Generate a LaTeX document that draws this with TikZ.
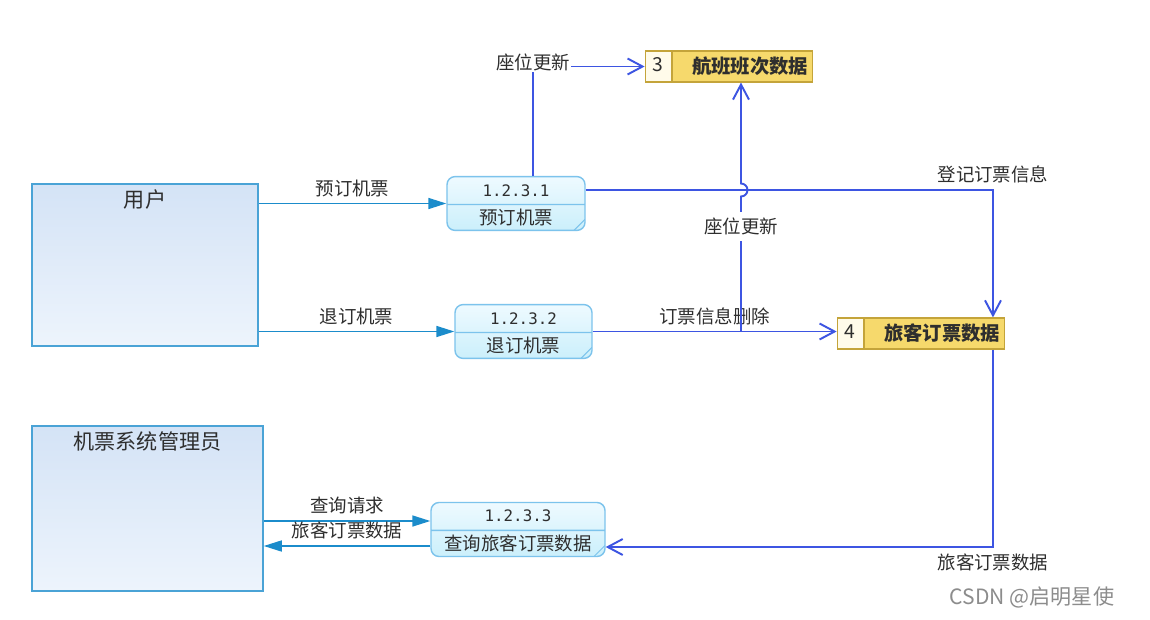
\documentclass[tikz,border=0pt]{standalone}
\usepackage{fontspec}
\setmainfont{Noto Sans CJK SC}
\newfontfamily\numfont{DejaVu Sans Mono}
\usetikzlibrary{shapes.multipart,arrows.meta,positioning,calc}

\definecolor{entityedge}{HTML}{4AA3D6}
\definecolor{entitytop}{HTML}{D4E3F6}
\definecolor{entitybot}{HTML}{EDF4FC}
\definecolor{procedge}{HTML}{7CC3EC}
\definecolor{proctop}{HTML}{EEFAFF}
\definecolor{procbot}{HTML}{CBEFFB}
\definecolor{storeedge}{HTML}{C4A43A}
\definecolor{storefill}{HTML}{F6D96C}
\definecolor{storecell}{HTML}{FFFBEA}
\definecolor{flowcyan}{HTML}{1B8CCB}
\definecolor{flowblue}{HTML}{3D55E2}
\definecolor{textgrey}{HTML}{2E2E2E}

\newcommand\procnum[1]{{\numfont\fontsize{9}{10}\selectfont #1}}

\begin{document}
\begin{tikzpicture}[
    x=0.02cm, y=-0.02cm,
    entity/.style={rectangle, draw=entityedge, line width=0.9pt,
                   top color=entitytop, bottom color=entitybot, inner sep=0pt},
    entitytitle/.style={anchor=north, inner sep=0.12cm,
                        font=\fontsize{12}{14}\selectfont, text=textgrey},
    process/.style={rectangle split, rectangle split parts=2, rounded corners=0.16cm,
                    draw=procedge, line width=0.8pt, top color=proctop, bottom color=procbot,
                    inner xsep=0.1cm, inner ysep=0.075cm, text height=0.3cm, text depth=0.08cm,
                    align=center, font=\fontsize{10.5}{12}\selectfont, text=textgrey,
                    path picture={\draw[procedge, line width=0.6pt]
                        ([xshift=-0.22cm]path picture bounding box.south east) --
                        ([yshift=0.22cm]path picture bounding box.south east);}},
    store/.style={rectangle split, rectangle split horizontal, rectangle split parts=2,
                  draw=storeedge, line width=0.8pt, rectangle split part fill={storecell,storefill},
                  inner xsep=0.05cm, inner ysep=0.09cm, text height=0.3cm, text depth=0.1cm,
                  font=\fontsize{11}{13}\selectfont, text=textgrey},
    flowin/.style={draw=flowcyan, line width=0.9pt, -{Triangle[length=0.36cm,width=0.22cm]}},
    flowstore/.style={draw=flowblue, line width=1.1pt, -{Straight Barb[length=0.3cm,width=0.32cm]}},
    flowlabel/.style={font=\fontsize{10.5}{12}\selectfont, text=textgrey},
    watermark/.style={font=\fontsize{12}{14}\selectfont, text=black!45}
]
    \useasboundingbox (0,0) rectangle (1150,619);
    \fill[white] (0,0) rectangle (1150,619);

    \node[entity, minimum width=4.52cm, minimum height=3.24cm,
          label={[entitytitle]north:用户}] (user) at (145,265) {};
    \node[entity, minimum width=4.62cm, minimum height=3.3cm,
          label={[entitytitle]north:机票系统管理员}] (admin) at (147.5,508.5) {};

    \node[process, text width=2.56cm] (p1) at (516,203.5) {\procnum{1.2.3.1}\nodepart{two}预订机票};
    \node[process, text width=2.54cm] (p2) at (523.5,331.5) {\procnum{1.2.3.2}\nodepart{two}退订机票};
    \node[process, text width=3.28cm] (p3) at (518,529.5) {\procnum{1.2.3.3}\nodepart{two}查询旅客订票数据};

    \node[store] (s3) at (729,66.5) {\makebox[0.42cm]{3}\nodepart{two}\makebox[2.7cm]{\hspace{0.3cm}\bfseries 航班班次数据}};
    \node[store] (s4) at (921,333.5) {\makebox[0.42cm]{4}\nodepart{two}\makebox[2.7cm]{\hspace{0.3cm}\bfseries 旅客订票数据}};

    \draw[flowin] (user.east |- p1.west) -- node[flowlabel, above] {预订机票} (p1.west);
    \draw[flowin] (user.east |- p2.west) -- node[flowlabel, above] {退订机票} (p2.west);
    \coordinate (q1) at ([yshift=0.17cm]p3.west);
    \coordinate (q2) at ([yshift=-0.33cm]p3.west);
    \draw[flowin] (admin.east |- q1) -- node[flowlabel, above] {查询请求} (q1);
    \draw[flowin] (q2) -- node[flowlabel, above] {旅客订票数据} (admin.east |- q2);

    \coordinate (r0) at ([xshift=0.34cm]p1.north);
    \draw[flowstore] (r0) |- node[flowlabel, fill=white, inner xsep=0.5pt, inner ysep=1pt, yshift=0.09cm] {座位更新} (s3.west);
    \coordinate (r1) at ([yshift=0.27cm]p1.east);
    \coordinate (r2) at ([xshift=1.44cm]s4.north);
    \draw[flowstore] (r1) -| node[flowlabel, above] {登记订票信息} (r2);
    \draw[flowstore] (p2.east) -- node[flowlabel, above] {订票信息删除} (p2.east -| s4.west);
    \coordinate (s3in) at ([xshift=0.24cm]s3.south);
    \draw[flowstore] (s3in |- p2.east) -- node[flowlabel, fill=white, pos=0.78] {座位更新}
        ([yshift=-0.13cm]s3in |- r1) arc[start angle=-90, end angle=90, radius=0.13cm] -- (s3in);
    \coordinate (u1) at ([xshift=1.44cm]s4.south);
    \coordinate (q3) at ([yshift=-0.35cm]p3.east);
    \draw[flowstore] (u1) |- node[flowlabel, below] {旅客订票数据} (q3);

    \node[watermark] (mark) at (1032,597) {CSDN @启明星使};
\end{tikzpicture}
\end{document}
